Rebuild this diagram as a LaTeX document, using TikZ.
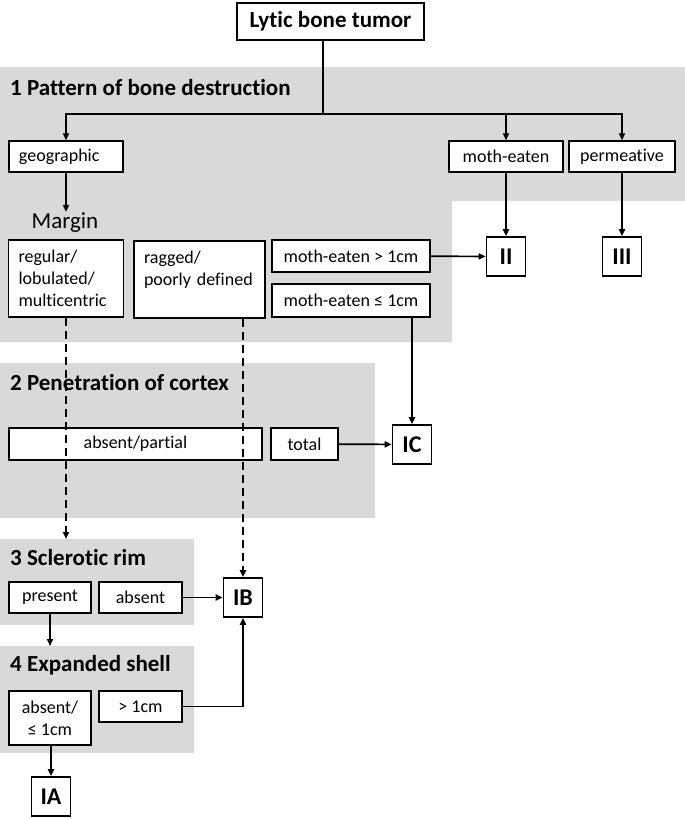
\documentclass[tikz,border=0pt]{standalone}
\usepackage{fontspec}
\setmainfont{Carlito}[Ligatures={NoCommon}]
\usetikzlibrary{arrows.meta}
\definecolor{panelgray}{HTML}{D9D9D9}

\begin{document}
\begin{tikzpicture}[x=1pt,y=-1pt,
    >={Triangle[length=7pt,width=6pt]},
    box/.style={draw, fill=white, line width=1.4pt, inner sep=0pt,
        font=\fontsize{18}{22}\selectfont},
    lbox/.style={box, align=left, inner xsep=10pt},
    grade/.style={draw, fill=white, line width=1.6pt, inner sep=0pt,
        minimum width=39pt, minimum height=39pt,
        font=\fontsize{24}{28}\selectfont\bfseries},
    heading/.style={anchor=west, inner sep=0pt,
        font=\fontsize{23}{27}\selectfont\bfseries},
    link/.style={line width=1.7pt, ->},
    hint/.style={line width=1.7pt, ->, dash pattern=on 8pt off 5pt}]

    \useasboundingbox (0,0) rectangle (685,819);

    % grey panels
    \fill[panelgray] (0,67) -- (685,67) -- (685,201) -- (452,201)
        -- (452,342) -- (0,342) -- cycle;
    \fill[panelgray] (0,363) rectangle (375,518);
    \fill[panelgray] (0,539) rectangle (194,625);
    \fill[panelgray] (0,646) rectangle (194,753);

    \node[heading] (h1) at (10,88)  {1 Pattern of bone destruction};
    \node[heading] (h2) at (10,383) {2 Penetration of cortex};
    \node[heading] (h3) at (10,558) {3 Sclerotic rim};
    \node[heading] (h4) at (10,665) {4 Expanded shell};

    \node[box, minimum width=187pt, minimum height=37pt,
        font=\fontsize{23}{27}\selectfont\bfseries]
        (tumor) at (330.5,21.5) {Lytic bone tumor};

    % step 1
    \node[lbox, text width=94pt, minimum height=31pt]
        (geographic) at (66,156.5) {geographic};
    \node[box, minimum width=114pt, minimum height=31pt]
        (motheaten) at (506,156.5) {moth-eaten};
    \node[box, minimum width=106pt, minimum height=31pt]
        (permeative) at (622,156.5) {permeative};
    \node[inner sep=1pt, font=\fontsize{23}{27}\selectfont]
        (margin) at (65,223) {Margin};
    \node[lbox, text width=95pt, minimum height=77pt]
        (regular) at (66,278.5) {regular/\\lobulated/\\multicentric};
    \node[lbox, text width=111pt, minimum height=77pt]
        (ragged) at (199.5,279.5) {ragged/\\poorly defined\\\mbox{}};
    \node[box, minimum width=158pt, minimum height=32pt]
        (megt) at (351,256) {moth-eaten > 1cm};
    \node[box, minimum width=158pt, minimum height=33pt]
        (mele) at (351,300.5) {moth-eaten ≤ 1cm};

    % step 2
    \node[box, minimum width=253pt, minimum height=32pt]
        (partial) at (135.5,444) {absent/partial};
    \node[box, minimum width=67pt, minimum height=32pt]
        (total) at (304.5,444) {total};

    % step 3 and 4
    \node[box, minimum width=82pt, minimum height=31pt]
        (present) at (50,597.5) {present};
    \node[box, minimum width=83pt, minimum height=31pt]
        (absentrim) at (140.5,597.5) {absent};
    \node[box, minimum width=82pt, minimum height=54pt, align=center]
        (shellabsent) at (50,718) {absent/\\≤ 1cm};
    \node[box, minimum width=83pt, minimum height=31pt]
        (shellgt) at (140.5,706.5) {> 1cm};

    % grades
    \node[grade] (II)  at (506,256.5) {II};
    \node[grade] (III) at (622,256.5) {III};
    \node[grade] (IC)  at (412,444.5) {IC};
    \node[grade] (IB)  at (243,597.5) {IB};
    \node[grade] (IA)  at (51,796.5)  {IA};

    \coordinate (bus) at (323,114);
    \coordinate (rimtop) at (0,539);
    \coordinate (shelltop) at (0,646);

    \draw[line width=1.7pt] (tumor.south -| bus) -- (bus);
    \draw[link] (bus) -| (geographic);
    \draw[link] (bus) -| (motheaten);
    \draw[link] (bus) -| (permeative);
    \draw[link] (geographic) -- (geographic |- margin.north);
    \draw[link] (motheaten) -- (II);
    \draw[link] (permeative) -- (III);
    \draw[link] (megt) -- (II);
    \draw[link] (mele.south -| IC) -- (IC);
    \draw[link] (total) -- (IC);
    \draw[hint] (regular) -- (regular |- rimtop);
    \draw[hint] (ragged.south -| IB) -- (IB);
    \draw[link] (absentrim) -- (IB);
    \draw[link] (present) -- (present |- shelltop);
    \draw[link] (shellgt) -| (IB);
    \draw[link] (shellabsent.south -| IA) -- (IA);
\end{tikzpicture}
\end{document}
